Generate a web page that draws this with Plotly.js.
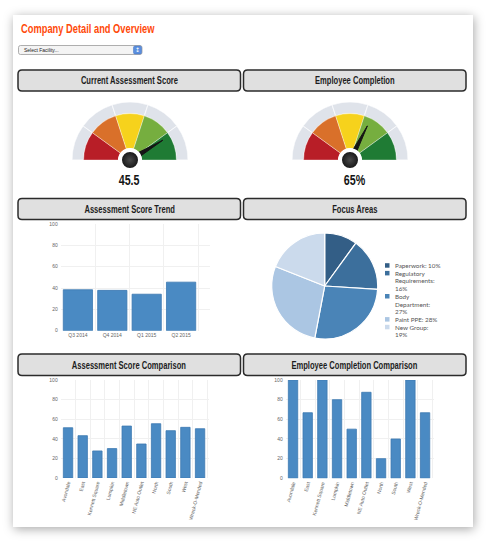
<!DOCTYPE html>
<html><head><meta charset="utf-8">
<script src="https://cdn.plot.ly/plotly-3.0.1.min.js"></script>
<style>
html,body{margin:0;padding:0;background:#fff;}
#card{position:absolute;left:13px;top:15px;width:460px;height:512px;background:#fff;box-shadow:1px 2px 10px rgba(0,0,0,0.35);}
#chart{position:absolute;left:0;top:0;width:486px;height:542px;}
</style></head><body>
<div id="card"></div>
<div id="chart"></div>
<script>
// ---------- data ----------
const pageTitle = 'Company Detail and Overview';
const selectText = 'Select Facility...';
const panelTitles = ['Current Assessment Score','Employee Completion','Assessment Score Trend','Focus Areas','Assessment Score Comparison','Employee Completion Comparison'];

const gaugeValues = [45.5, 65];
const gaugeMax = [55, 100];
const gaugeSuffix = ['', '%'];
const gaugeBandColors = ['#b81e27','#d9702a','#f6d21c','#76ae3f','#1f7b34'];

const trendQuarters = ['Q3 2014','Q4 2014','Q1 2015','Q2 2015'];
const trendScores = [38.4, 37.8, 34.2, 45.5];

const focusAreas = ['Paperwork','Regulatory Requirements','Body Department','Paint PPE','New Group'];
const focusPercents = [10, 16, 27, 28, 19];
const focusLegendText = ['Paperwork: 10%','Regulatory<br>Requirements:<br>16%','Body<br>Department:<br>27%','Paint PPE: 28%','New Group:<br>19%'];
const focusColors = ['#335e86','#3c6f9c','#4a84b7','#abc6e3','#cbdaec'];

const facilities = ['Avondale','East','Kennett Square','Lumpkin','Middletown','NE Auto Outlet','North','South','West','Wreck-O-Mended'];
const facilityScores = [51.3, 43.2, 27.6, 30, 53, 34.7, 55.4, 48.3, 51.7, 50.3];
const facilityCompletion = [100, 66.7, 100, 80, 50, 87.5, 20, 40, 100, 66.7];

// ---------- helpers ----------
const W = 486, H = 542;
const px = x => x / W, py = y => 1 - y / H;
const boldFont = '"Liberation Sans", Arial, sans-serif';
const tickFont = {family:'"Liberation Sans", Arial, sans-serif', size:5, color:'#666'};
const CONDENSE = 0.69;
const condensedIdx = [];

const traces = [];
const layout = {
  width:W, height:H, margin:{l:0,r:0,t:0,b:0},
  paper_bgcolor:'rgba(0,0,0,0)', plot_bgcolor:'rgba(0,0,0,0)',
  showlegend:false, shapes:[], annotations:[],
  font:{family:'"Liberation Sans", Arial, sans-serif'}
};
function addAnn(a, condensed){
  if (condensed) condensedIdx.push({i:layout.annotations.length, anchor:a.xanchor||'center'});
  layout.annotations.push(Object.assign({xref:'paper',yref:'paper',showarrow:false},a));
}

function roundRect(x0,y0,x1,y1,r){
  const X=v=>px(v).toFixed(5), Y=v=>py(v).toFixed(5);
  return `M${X(x0+r)},${Y(y0)} L${X(x1-r)},${Y(y0)} Q${X(x1)},${Y(y0)} ${X(x1)},${Y(y0+r)} `+
         `L${X(x1)},${Y(y1-r)} Q${X(x1)},${Y(y1)} ${X(x1-r)},${Y(y1)} L${X(x0+r)},${Y(y1)} `+
         `Q${X(x0)},${Y(y1)} ${X(x0)},${Y(y1-r)} L${X(x0)},${Y(y0+r)} Q${X(x0)},${Y(y0)} ${X(x0+r)},${Y(y0)} Z`;
}

// ---------- page title & select ----------
addAnn({x:px(19),y:py(28.5),xanchor:'left',yanchor:'middle',text:pageTitle,
  font:{family:boldFont,size:13.5,color:'#ff4a0a',weight:700}}, true);
layout.shapes.push({type:'path',xref:'paper',yref:'paper',path:roundRect(18.5,45.5,142,54.5,2),fillcolor:'#f4f4f4',line:{color:'#9a9a9a',width:0.8}});
layout.shapes.push({type:'path',xref:'paper',yref:'paper',path:roundRect(133.5,46,141.5,54,1.5),fillcolor:'#5b8fde',line:{color:'#3f6fbf',width:0.5}});
addAnn({x:px(22),y:py(50),xanchor:'left',yanchor:'middle',text:selectText,font:{size:5,color:'#222'}});
addAnn({x:px(137.5),y:py(50),xanchor:'center',yanchor:'middle',text:'↕',font:{family:'DejaVu Sans',size:6,color:'#fff'}});

// ---------- panel headers ----------
const colX = [[18,240.5],[243.5,466]];
const rowY = [[70,91],[198.5,219.5],[354,375.5]];
panelTitles.forEach((t,i)=>{
  const [x0,x1] = colX[i%2], [y0,y1] = rowY[Math.floor(i/2)];
  layout.shapes.push({type:'path',xref:'paper',yref:'paper',path:roundRect(x0,y0,x1,y1,4),
    fillcolor:'#e0e0e0',line:{color:'#2b2b2b',width:1.5}});
  addAnn({x:px((x0+x1)/2),y:py((y0+y1)/2),xanchor:'center',yanchor:'middle',text:t,
    font:{family:boldFont,size:11,color:'#1d1d1d',weight:700}}, true);
});

// ---------- gauges ----------
const gaugeCenters = [[130,160],[350,160]];
const gaugeR = 58;
gaugeValues.forEach((v,i)=>{
  const pid = i===0 ? 'polar' : 'polar2';
  const [cx,cy] = gaugeCenters[i];
  layout[pid] = {
    domain:{x:[px(cx-gaugeR),px(cx+gaugeR)], y:[py(cy),py(cy-gaugeR)]},
    sector:[0,180], bgcolor:'rgba(0,0,0,0)',
    radialaxis:{visible:false,range:[0,1]},
    angularaxis:{visible:false,rotation:0,direction:'counterclockwise',thetaunit:'degrees'}
  };
  const nb = gaugeBandColors.length, bw = 180/nb;
  const thetas = gaugeBandColors.map((c,k)=>180 - bw*(k+0.5));
  traces.push({type:'barpolar',subplot:pid,theta:thetas,r:thetas.map(()=>0.2),base:thetas.map(()=>0.8),
    width:thetas.map(()=>bw),marker:{color:'#dfe3ea',line:{color:'#f8f9fb',width:1}},hoverinfo:'skip'});
  traces.push({type:'barpolar',subplot:pid,theta:thetas,r:thetas.map(()=>0.6),base:thetas.map(()=>0.2),
    width:thetas.map(()=>bw),marker:{color:gaugeBandColors,line:{color:'rgba(255,255,255,0.45)',width:0.8}},hoverinfo:'skip'});
  const th = 180*(1 - v/gaugeMax[i]);
  traces.push({type:'scatterpolar',subplot:pid,mode:'lines',r:[0.05,0.66,0.05],theta:[th+90,th,th-90],
    fill:'toself',fillcolor:'#151515',line:{color:'#151515',width:1},cliponaxis:false,hoverinfo:'skip'});
  traces.push({type:'scatterpolar',subplot:pid,mode:'markers',r:[0],theta:[90],cliponaxis:false,hoverinfo:'skip',
    marker:{size:20,color:'#0e0e0e',line:{color:'#ffffff',width:4},gradient:{type:'radial',color:'#4a4a4a'}}});
  addAnn({x:px((colX[i][0]+colX[i][1])/2),y:py(180),xanchor:'center',yanchor:'middle',
    text:String(v)+gaugeSuffix[i],font:{family:boldFont,size:15.5,color:'#151515',weight:700}}, true);
});

// ---------- bar charts ----------
function axisPair(n, xd, yd, xrange, tickangle){
  const s = n===1 ? '' : String(n);
  const xa = {domain:[px(xd[0]),px(xd[1])],type:'category',range:xrange,tickson:'boundaries',showgrid:true,
    gridcolor:'#f0f0f0',gridwidth:1,zeroline:false,showline:false,ticks:'',tickfont:tickFont,fixedrange:true,anchor:'y'+s};
  if (tickangle!==undefined) xa.tickangle = tickangle;
  const ya = {domain:[py(yd[1]),py(yd[0])],range:[0,100],dtick:20,showgrid:true,gridcolor:'#f0f0f0',gridwidth:1,
    zeroline:false,showline:false,ticks:'',tickfont:tickFont,fixedrange:true,ticklabelstandoff:2,anchor:'x'+s};
  layout['xaxis'+s] = xa;
  layout['yaxis'+s] = ya;
}
const barMarker = {color:'#4a8ac3',line:{color:'#3c79b1',width:0.8}};

axisPair(1,[60.7,210],[224,330.7],[-0.5,3.84]);
traces.push({type:'bar',x:trendQuarters,y:trendScores,width:0.85,marker:barMarker,xaxis:'x',yaxis:'y',hoverinfo:'skip'});

axisPair(2,[60.7,209.3],[380,478],[-0.5,9.63],-75);
traces.push({type:'bar',x:facilities,y:facilityScores,width:0.64,marker:barMarker,xaxis:'x2',yaxis:'y2',hoverinfo:'skip'});

axisPair(3,[285.7,434],[380,478.3],[-0.5,9.61],-75);
traces.push({type:'bar',x:facilities,y:facilityCompletion,width:0.64,marker:barMarker,xaxis:'x3',yaxis:'y3',hoverinfo:'skip'});

// ---------- pie ----------
traces.push({type:'pie',labels:focusAreas,values:focusPercents,sort:false,direction:'clockwise',rotation:0,
  textinfo:'none',hoverinfo:'skip',marker:{colors:focusColors,line:{color:'#ffffff',width:1.2}},
  domain:{x:[px(271.7),px(377.7)],y:[py(339),py(233)]}});

// custom legend
let line = 0;
const legTop = 265.5, lh = 7.7;
focusLegendText.forEach((txt,i)=>{
  const lines = txt.split('<br>');
  const yc = legTop + line*lh;
  layout.shapes.push({type:'rect',xref:'paper',yref:'paper',x0:px(385),x1:px(389.5),y0:py(yc+2.2),y1:py(yc-2.3),
    fillcolor:focusColors[i],line:{width:0}});
  lines.forEach((ln,k)=>{
    addAnn({x:px(392.5),y:py(yc+k*lh),xanchor:'left',yanchor:'middle',text:ln,
      font:{family:'Lato, sans-serif',size:6.3,color:'#555'}});
  });
  line += lines.length;
});

Plotly.newPlot('chart', traces, layout, {staticPlot:true, displayModeBar:false}).then(gd=>{
  // narrow the bold display texts to mimic the condensed headline face
  condensedIdx.forEach(({i,anchor})=>{
    const t = gd.querySelector(`g.annotation[data-index="${i}"] text.annotation-text`);
    if (!t) return;
    const b = t.getBBox();
    const ox = anchor==='left' ? b.x : b.x + b.width/2;
    t.setAttribute('transform',`translate(${ox},0) scale(${CONDENSE},1) translate(${-ox},0)`);
  });
});
</script>
</body></html>
